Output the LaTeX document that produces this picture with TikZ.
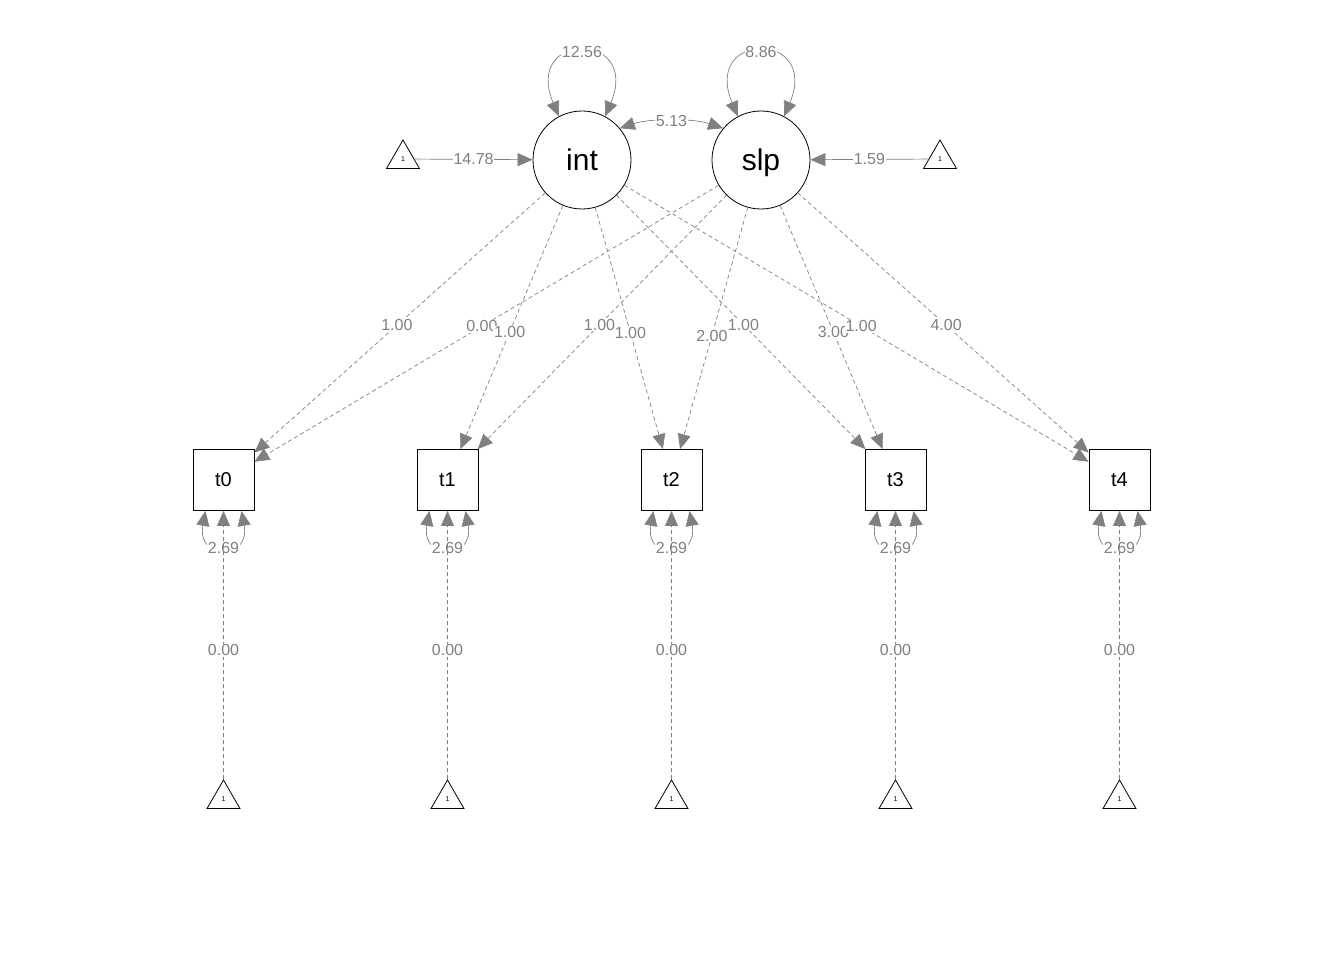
\documentclass[tikz,border=0pt]{standalone}
\usepackage{fontspec}
\setmainfont{Liberation Sans}
\usetikzlibrary{arrows.meta,shapes.geometric}
\tikzset{
 lat/.style={circle,draw,line width=0.8pt,minimum size=98pt,inner sep=0pt,text height=25pt,text depth=3pt,font=\fontsize{30}{36}\selectfont},
 man/.style={rectangle,draw,line width=0.8pt,minimum size=61pt,inner sep=0pt,font=\fontsize{20}{24}\selectfont},
 tri/.style={regular polygon,regular polygon sides=3,draw,line width=0.8pt,minimum size=38pt,inner sep=0pt,font=\fontsize{7}{8}\selectfont},
 lbl/.style={fill=white,inner sep=0.6pt,text=gray,font=\fontsize{16}{19}\selectfont},
 arr/.style={draw=gray,line width=0.7pt,-{Triangle[length=15pt,width=13pt]}},
 load/.style={arr,dash pattern=on 4pt off 3pt},
 dbl/.style={draw=gray,line width=0.7pt,{Triangle[length=15pt,width=13pt]}-{Triangle[length=15pt,width=13pt]}},
}
\begin{document}
\begin{tikzpicture}[x=1pt,y=-1pt]
\useasboundingbox (0,0) rectangle (1344,960);
% latent
\node[lat] (int) at (582,160) {int};
\node[lat] (slp) at (761,160) {slp};
\node[tri] (ti) at (403,159) {1};
\node[tri] (ts) at (940,159) {1};
% manifest
\foreach \i in {0,...,4}{
  \node[man] (t\i) at (223.5+224*\i,480) {t\i};
  \node[tri] (b\i) at (223.5+224*\i,799) {1};
}
% intercept means
\draw[arr] (ti) -- (int) node[lbl,pos=0.5] {14.78};
\draw[arr] (ts) -- (slp) node[lbl,pos=0.5] {1.59};
% variances
\draw[dbl] (int.118) .. controls +(-36,-86) and +(36,-86) .. (int.62) node[lbl,pos=0.5] {12.56};
\draw[dbl] (slp.118) .. controls +(-36,-86) and +(36,-86) .. (slp.62) node[lbl,pos=0.5] {8.86};
% covariance
\draw[dbl] (int.40) .. controls +(30,-10) and +(-30,-10) .. (slp.140) node[lbl,pos=0.5] {5.13};
% loadings
\draw[load] (int) -- (t0) node[lbl,pos=0.51] {1.00};
\draw[load] (slp) -- (t0) node[lbl,pos=0.51] {0.00};
\draw[load] (int) -- (t1) node[lbl,pos=0.52] {1.00};
\draw[load] (slp) -- (t1) node[lbl,pos=0.51] {1.00};
\draw[load] (int) -- (t2) node[lbl,pos=0.52] {1.00};
\draw[load] (slp) -- (t2) node[lbl,pos=0.53] {2.00};
\draw[load] (int) -- (t3) node[lbl,pos=0.51] {1.00};
\draw[load] (slp) -- (t3) node[lbl,pos=0.52] {3.00};
\draw[load] (int) -- (t4) node[lbl,pos=0.51] {1.00};
\draw[load] (slp) -- (t4) node[lbl,pos=0.51] {4.00};
% residual variances and means
\foreach \i in {0,...,4}{
  \draw[dbl] ([xshift=-18pt]t\i.south) .. controls +(-9,50) and +(9,50) .. ([xshift=18pt]t\i.south) node[lbl,pos=0.5] {2.69};
  \draw[load] (b\i) -- (t\i) node[lbl,pos=0.48] {0.00};
}
\end{tikzpicture}
\end{document}
